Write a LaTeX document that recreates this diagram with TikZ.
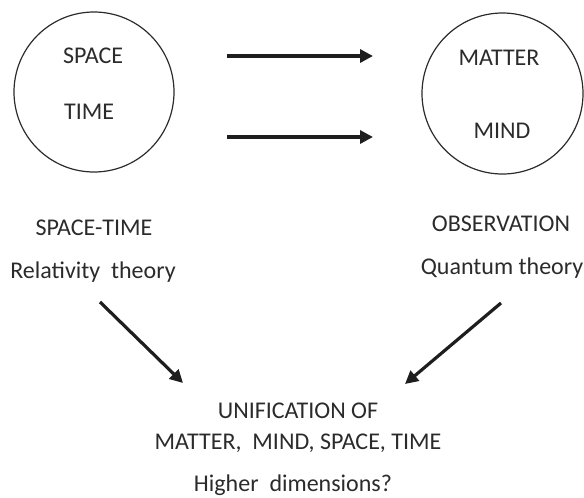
\documentclass[tikz,border=0pt]{standalone}
\usepackage{fontspec}
\setmainfont{Carlito}
\usetikzlibrary{arrows.meta}
\definecolor{txt}{HTML}{2B2B2B}
\definecolor{ink}{HTML}{1E1E1E}
\begin{document}
\begin{tikzpicture}[x=1pt,y=-1pt,
  lbl/.style={inner sep=0pt,text=txt,font=\fontsize{24}{28}\selectfont},
  ring/.style={circle,draw=txt,line width=1.2pt,inner sep=0pt},
  bigarrow/.style={draw=ink,line width=3.6pt,-{Triangle[length=13pt,width=13pt]}}]
\useasboundingbox (0,0) rectangle (584,498);
% circles
\node[ring,minimum size=160pt] (lc) at (94,92) {};
\node[ring,minimum size=161pt] (rc) at (502.5,93.5) {};
% circle texts
\node[lbl,anchor=base west] (space) at (63,63) {SPACE};
\node[lbl,anchor=base west] (time) at (64,119) {TIME};
\node[lbl,anchor=base] (matter) at (499,65) {MATTER};
\node[lbl,anchor=base] (mind) at (502,138) {MIND};
% lower labels
\node[lbl,anchor=base] (st) at (94,235) {SPACE-TIME};
\node[lbl,anchor=base] (rel) at (93,278) {Relativity\ \ theory};
\node[lbl,anchor=base] (obs) at (501,231) {OBSERVATION};
\node[lbl,anchor=base] (qt) at (502,274) {Quantum theory};
\node[lbl,anchor=base] (uni) at (298,418) {UNIFICATION OF};
\node[lbl,anchor=base] (mmst) at (298,449) {MATTER,\ \ MIND, SPACE, TIME};
\node[lbl,anchor=base] (hd) at (293,491) {Higher\ \ dimensions?};
% arrow ends
\coordinate (a1s) at (227,56);
\coordinate (a1e) at (373,56);
\coordinate (a2s) at (227,137);
\coordinate (a2e) at (373,137);
\coordinate (d1s) at (100,302);
\coordinate (d1e) at (183,383);
\coordinate (d2s) at (501,303);
\coordinate (d2e) at (405,384);
\draw[bigarrow] (a1s) -- (a1e);
\draw[bigarrow] (a2s) -- (a2e);
\draw[bigarrow,line width=3.2pt] (d1s) -- (d1e);
\draw[bigarrow,line width=3.2pt] (d2s) -- (d2e);
\end{tikzpicture}
\end{document}
